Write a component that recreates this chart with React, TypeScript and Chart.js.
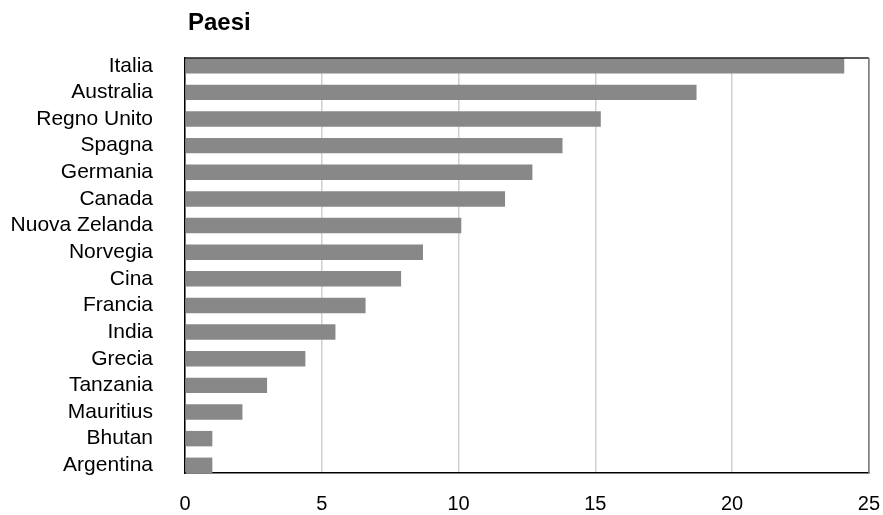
import React, { useEffect, useRef } from "react";
import { Chart, registerables } from "chart.js";

Chart.register(...registerables);

const countries: string[] = [
  "Italia",
  "Australia",
  "Regno Unito",
  "Spagna",
  "Germania",
  "Canada",
  "Nuova Zelanda",
  "Norvegia",
  "Cina",
  "Francia",
  "India",
  "Grecia",
  "Tanzania",
  "Mauritius",
  "Bhutan",
  "Argentina",
];

const values: number[] = [24.1, 18.7, 15.2, 13.8, 12.7, 11.7, 10.1, 8.7, 7.9, 6.6, 5.5, 4.4, 3.0, 2.1, 1.0, 1.0];

const xTicks: number[] = [0, 5, 10, 15, 20, 25];

const titleText = "Paesi";

const FONT = '"Liberation Sans", Arial, Helvetica, sans-serif';

export default function App() {
  const canvasRef = useRef<HTMLCanvasElement | null>(null);

  useEffect(() => {
    const canvas = canvasRef.current;
    if (!canvas) return;

    const framePlugin = {
      id: "framePlugin",
      afterDatasetsDraw(chart: any) {
        const { ctx, chartArea } = chart;
        ctx.save();
        ctx.lineWidth = 1.5;
        ctx.strokeStyle = "#222";
        ctx.beginPath();
        ctx.moveTo(chartArea.left, chartArea.top);
        ctx.lineTo(chartArea.right, chartArea.top);
        ctx.stroke();
        ctx.strokeStyle = "#777";
        ctx.beginPath();
        ctx.moveTo(chartArea.right, chartArea.top);
        ctx.lineTo(chartArea.right, chartArea.bottom);
        ctx.stroke();
        ctx.restore();
      },
      afterDraw(chart: any) {
        const { ctx, chartArea } = chart;
        ctx.save();
        ctx.font = `bold 24px ${FONT}`;
        ctx.fillStyle = "#000";
        ctx.textAlign = "left";
        ctx.textBaseline = "alphabetic";
        ctx.fillText(titleText, chartArea.left + 3, 30);
        ctx.restore();
      },
    };

    const chart = new Chart(canvas, {
      type: "bar",
      data: {
        datasets: [
          {
            data: values.map((v, i) => ({ x: v, y: i })) as any,
            backgroundColor: "#888888",
            borderWidth: 0,
            barPercentage: 0.58,
            categoryPercentage: 1,
          },
        ],
      },
      options: {
        indexAxis: "y",
        animation: false,
        responsive: true,
        maintainAspectRatio: false,
        layout: { padding: { top: 58, right: 14, bottom: 0, left: 0 } },
        plugins: {
          legend: { display: false },
          tooltip: { enabled: false },
          title: { display: false },
        },
        scales: {
          x: {
            type: "linear",
            position: "bottom",
            min: xTicks[0],
            max: xTicks[xTicks.length - 1],
            afterFit(scale: any) {
              scale.height = 42;
            },
            afterBuildTicks(scale: any) {
              scale.ticks = xTicks.map((v) => ({ value: v }));
            },
            ticks: {
              padding: 3,
              color: "#000",
              font: { family: FONT, size: 20 },
            },
            grid: {
              color: "#d0d0d0",
              lineWidth: 1.5,
              drawTicks: true,
              tickLength: 16,
              tickColor: "rgba(0,0,0,0)",
            },
            border: { display: true, color: "#000", width: 1.5 },
          },
          y: {
            type: "linear",
            reverse: true,
            offset: false,
            bounds: "data",
            min: -0.29,
            max: countries.length - 1 + 0.29,
            afterFit(scale: any) {
              scale.width = 185;
            },
            afterBuildTicks(scale: any) {
              scale.ticks = countries.map((_, i) => ({ value: i }));
            },
            ticks: {
              autoSkip: false,
              padding: 4,
              color: "#000",
              font: { family: FONT, size: 21 },
              callback: (v: any) => {
                const n = Number(v);
                return Number.isInteger(n) && countries[n] !== undefined ? countries[n] : "";
              },
            },
            grid: { display: false, offset: false, drawTicks: true, tickLength: 28 },
            border: { display: true, color: "#000", width: 1.5 },
          },
        },
      },
      plugins: [framePlugin],
    });

    return () => {
      chart.destroy();
    };
  }, []);

  return (
    <div style={{ position: "fixed", left: 0, top: 0, width: 883, height: 515, background: "#fff" }}>
      <canvas ref={canvasRef} />
    </div>
  );
}
